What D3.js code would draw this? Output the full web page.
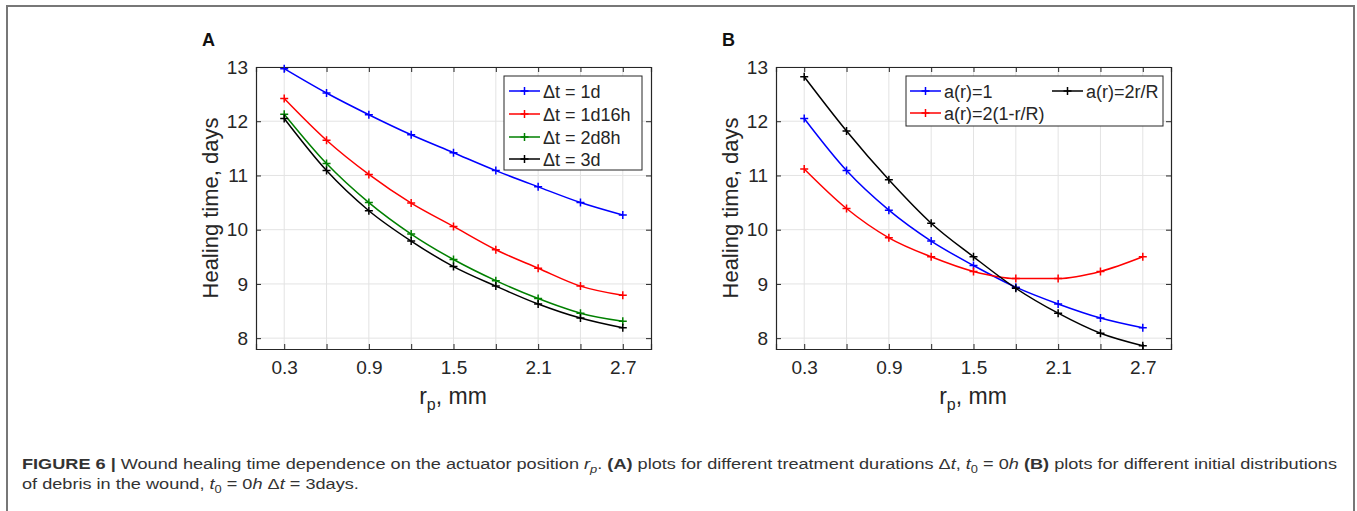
<!DOCTYPE html>
<html>
<head>
<meta charset="utf-8">
<script src="https://cdn.jsdelivr.net/npm/d3@7"></script>
<style>
  body { margin: 0; background: #fff; }
  svg { display: block; font-family: "Liberation Sans", Arial, sans-serif; }
</style>
</head>
<body>
<svg id="fig" width="1357" height="511"></svg>
<script>
// x positions (r_p, mm)
var rp = [0.3, 0.6, 0.9, 1.2, 1.5, 1.8, 2.1, 2.4, 2.7];
var xTicks = [0.3, 0.6, 0.9, 1.2, 1.5, 1.8, 2.1, 2.4, 2.7];
var xTickLabels = ["0.3", "", "0.9", "", "1.5", "", "2.1", "", "2.7"];
var yTicks = [8, 9, 10, 11, 12, 13];

// panel A: treatment durations
var namesA = ["\u0394t = 1d", "\u0394t = 1d16h", "\u0394t = 2d8h", "\u0394t = 3d"];
var dt1d    = [12.97, 12.52, 12.12, 11.75, 11.42, 11.09, 10.79, 10.50, 10.27];
var dt1d16h = [12.42, 11.65, 11.02, 10.49, 10.06, 9.63, 9.29, 8.96, 8.79];
var dt2d8h  = [12.13, 11.22, 10.50, 9.92, 9.45, 9.06, 8.73, 8.46, 8.31];
var dt3d    = [12.05, 11.09, 10.35, 9.79, 9.32, 8.96, 8.63, 8.37, 8.19];

// panel B: initial debris distributions
var namesB = ["a(r)=1", "a(r)=2(1-r/R)", "a(r)=2r/R"];
var aConst  = [12.05, 11.09, 10.36, 9.79, 9.34, 8.94, 8.63, 8.37, 8.19];
var aDecr   = [11.12, 10.39, 9.85, 9.50, 9.23, 9.10, 9.10, 9.23, 9.50];
var aIncr   = [12.82, 11.82, 10.92, 10.12, 9.50, 8.92, 8.46, 8.09, 7.86];

var colors = { blue: "#0000ff", red: "#ff0000", green: "#008000", black: "#000000" };
var axisColor = "#262626";

var svg = d3.select("#fig");

// outer frame
svg.append("rect").attr("x", 7).attr("y", 6).attr("width", 1347).attr("height", 520)
    .attr("fill", "none").attr("stroke", "#777").attr("stroke-width", 2);

function drawPanel(left, letter, series, legend) {
    var x = d3.scaleLinear().domain([0.1, 2.9]).range([left, left + 395]);
    var y = d3.scaleLinear().domain([7.8, 13]).range([349, 67]);
    var g = svg.append("g");

    // grid
    g.selectAll(".gx").data(xTicks).enter().append("line")
        .attr("x1", d => x(d)).attr("x2", d => x(d)).attr("y1", y.range()[0]).attr("y2", y.range()[1])
        .attr("stroke", "#e3e3e3").attr("stroke-width", 1);
    g.selectAll(".gy").data(yTicks).enter().append("line")
        .attr("y1", d => y(d)).attr("y2", d => y(d)).attr("x1", x.range()[0]).attr("x2", x.range()[1])
        .attr("stroke", "#e3e3e3").attr("stroke-width", 1);

    // axes (ticks inward, box on)
    var axB = d3.axisBottom(x).tickValues(xTicks).tickSize(-5).tickFormat((d, i) => xTickLabels[i]).tickPadding(12);
    var axT = d3.axisTop(x).tickValues(xTicks).tickSize(-5).tickFormat("");
    var axL = d3.axisLeft(y).tickValues(yTicks).tickSize(-5).tickFormat(d3.format("d")).tickPadding(8);
    var axR = d3.axisRight(y).tickValues(yTicks).tickSize(-5).tickFormat("");
    [[axB, "translate(0,349)"], [axT, "translate(0,67)"], [axL, "translate(" + left + ",0)"], [axR, "translate(" + (left + 395) + ",0)"]]
        .forEach(function (a) {
            var ga = g.append("g").attr("transform", a[1]).call(a[0]);
            ga.select(".domain").attr("stroke", axisColor).attr("stroke-width", 1.2);
            ga.selectAll(".tick line").attr("stroke", axisColor);
            ga.selectAll("text").filter(function () { return this.textContent === ""; }).remove();
            ga.selectAll("text").attr("fill", axisColor).style("font-size", "19px").style("font-family", "Liberation Sans, Arial, sans-serif");
        });

    // lines + markers
    var line = d3.line().x((d, i) => x(rp[i])).y(d => y(d)).curve(d3.curveMonotoneX);
    series.forEach(function (s) {
        g.append("path").datum(s.values).attr("d", line)
            .attr("fill", "none").attr("stroke", s.color).attr("stroke-width", 1.5);
        g.selectAll(null).data(s.values).enter().append("path")
            .attr("d", (d, i) => "M" + (x(rp[i]) - 4) + "," + y(d) + "h8M" + x(rp[i]) + "," + (y(d) - 4) + "v8")
            .attr("stroke", s.color).attr("stroke-width", 1.5);
    });

    // legend
    var lg = g.append("g");
    lg.append("rect").attr("x", legend.box[0]).attr("y", legend.box[1]).attr("width", legend.box[2]).attr("height", legend.box[3])
        .attr("fill", "#fff").attr("stroke", axisColor).attr("stroke-width", 1);
    legend.items.forEach(function (it) {
        var s = series[it.i];
        lg.append("line").attr("x1", it.x).attr("x2", it.x + 31).attr("y1", it.y).attr("y2", it.y)
            .attr("stroke", s.color).attr("stroke-width", 1.5);
        lg.append("path").attr("d", "M" + (it.x + 11.5) + "," + it.y + "h8M" + (it.x + 15.5) + "," + (it.y - 4) + "v8")
            .attr("stroke", s.color).attr("stroke-width", 1.5);
        lg.append("text").attr("x", it.x + 34).attr("y", it.y + 6.5).attr("fill", axisColor)
            .style("font-size", "18px").text(s.name);
    });

    // axis labels
    var xl = g.append("text").attr("x", left + 197).attr("y", 404).attr("text-anchor", "middle")
        .attr("fill", axisColor).style("font-size", "23px");
    xl.append("tspan").text("r");
    xl.append("tspan").attr("dy", 6).style("font-size", "16px").text("p");
    xl.append("tspan").attr("dy", -6).text(", mm");

    g.append("text").attr("transform", "translate(" + (left - 38) + ",208) rotate(-90)")
        .attr("text-anchor", "middle").attr("fill", axisColor).style("font-size", "22px")
        .text("Healing time, days");

    g.append("text").attr("x", left - 54).attr("y", 46).attr("font-weight", "bold")
        .attr("fill", "#111").style("font-size", "18px").text(letter);
}

drawPanel(256, "A", [
    { name: namesA[0], values: dt1d, color: colors.blue },
    { name: namesA[1], values: dt1d16h, color: colors.red },
    { name: namesA[2], values: dt2d8h, color: colors.green },
    { name: namesA[3], values: dt3d, color: colors.black }
], {
    box: [504, 76, 138, 94],
    items: [{ i: 0, x: 509, y: 91 }, { i: 1, x: 509, y: 114 }, { i: 2, x: 509, y: 137 }, { i: 3, x: 509, y: 159 }]
});

drawPanel(776, "B", [
    { name: namesB[0], values: aConst, color: colors.blue },
    { name: namesB[1], values: aDecr, color: colors.red },
    { name: namesB[2], values: aIncr, color: colors.black }
], {
    box: [906, 76, 257, 50],
    items: [{ i: 0, x: 910, y: 91 }, { i: 1, x: 910, y: 113 }, { i: 2, x: 1052, y: 91 }]
});

// caption
var cap = svg.append("g").attr("fill", "#333").style("font-family", "'Liberation Sans', Arial, sans-serif")
    .style("font-size", "15.5px");

// parts: [text, style]; style: b = bold, i = italic, s = subscript (roman), si = subscript italic
function caption(t, parts) {
    var lowered = false;
    parts.forEach(function (p) {
        var ts = t.append("tspan").text(p[0]);
        var st = p[1] || "";
        var isSub = st === "s" || st === "si";
        if (isSub && !lowered) { ts.attr("dy", 4); lowered = true; }
        else if (!isSub && lowered) { ts.attr("dy", -4); lowered = false; }
        if (isSub) ts.style("font-size", "11px");
        if (st === "b") ts.style("font-weight", 700);
        if (st === "i" || st === "si") ts.style("font-style", "italic");
    });
}

var c1 = cap.append("text").attr("x", 22).attr("y", 469);
caption(c1, [
    ["FIGURE 6 | ", "b"], ["Wound healing time dependence on the actuator position "],
    ["r", "i"], ["p", "si"], [". "], ["(A)", "b"],
    [" plots for different treatment durations \u0394"], ["t", "i"], [", "],
    ["t", "i"], ["0", "s"], [" = 0"], ["h ", "i"], ["(B)", "b"],
    [" plots for different initial distributions"]
]);

var c2 = cap.append("text").attr("x", 22).attr("y", 489);
caption(c2, [
    ["of debris in the wound, "], ["t", "i"], ["0", "s"], [" = 0"], ["h", "i"],
    [" \u0394"], ["t", "i"], [" = 3days."]
]);

var natural = c1.node().getComputedTextLength();
var ratio = 1315 / natural;
c1.attr("textLength", 1315).attr("lengthAdjust", "spacingAndGlyphs");
c2.attr("textLength", c2.node().getComputedTextLength() * ratio).attr("lengthAdjust", "spacingAndGlyphs");
</script>
</body>
</html>
